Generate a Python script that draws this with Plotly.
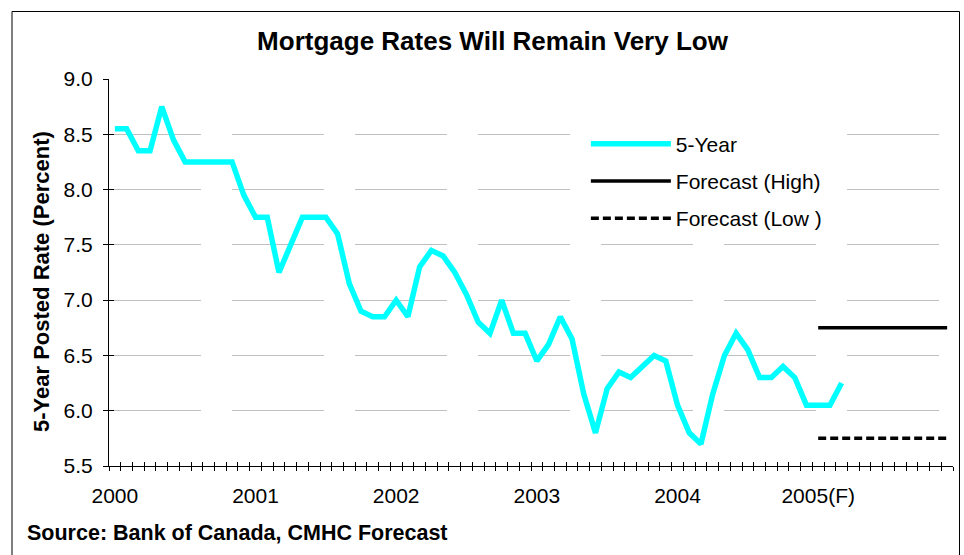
import plotly.graph_objects as go

# Monthly 5-year posted mortgage rate, Jan 2000 - Mar 2005 (percent)
rate_5yr = [
    8.55, 8.55, 8.35, 8.35, 8.75, 8.45, 8.25, 8.25, 8.25, 8.25, 8.25, 7.95,
    7.75, 7.75, 7.25, 7.50, 7.75, 7.75, 7.75, 7.60, 7.15, 6.90, 6.85, 6.85,
    7.00, 6.85, 7.30, 7.45, 7.40, 7.25, 7.05, 6.80, 6.70, 7.00, 6.70, 6.70,
    6.45, 6.60, 6.85, 6.65, 6.15, 5.80, 6.20, 6.35, 6.30, 6.40, 6.50, 6.45,
    6.05, 5.80, 5.70, 6.15, 6.50, 6.70, 6.55, 6.30, 6.30, 6.40, 6.30, 6.05,
    6.05, 6.05, 6.25,
]

# 2005 forecast range, Jan - Dec 2005 (percent)
forecast_high = [6.75, 6.75, 6.75, 6.75, 6.75, 6.75, 6.75, 6.75, 6.75, 6.75, 6.75, 6.75]
forecast_low = [5.75, 5.75, 5.75, 5.75, 5.75, 5.75, 5.75, 5.75, 5.75, 5.75, 5.75, 5.75]

year_labels = ["2000", "2001", "2002", "2003", "2004", "2005(F)"]
year_start_month = [0, 12, 24, 36, 48, 60]
n_months = 72
forecast_start = 60

months_hist = list(range(len(rate_5yr)))
months_fc = [forecast_start + i for i in range(len(forecast_high))]

FONT = "Liberation Sans, Arial, sans-serif"

fig = go.Figure()
fig.add_trace(go.Scatter(
    x=months_hist, y=rate_5yr, mode="lines", name="5-Year",
    line=dict(color="#00FFFF", width=5.5), legendgroup="a",
    xaxis="x", yaxis="y",
))
# forecast traces sit on the overlay axes that carry the crossing tick marks
fig.add_trace(go.Scatter(
    x=months_fc, y=forecast_high, mode="lines", name="Forecast (High)",
    line=dict(color="#000000", width=3.5), legendgroup="b",
    xaxis="x2", yaxis="y",
))
fig.add_trace(go.Scatter(
    x=months_fc, y=forecast_low, mode="lines", name="Forecast (Low )",
    line=dict(color="#000000", width=3.5, dash="8px,4px"), legendgroup="c",
    xaxis="x3", yaxis="y2",
))

xr = [-0.5, n_months - 0.5]
yr = [5.5, 9.0]

fig.update_layout(
    width=964, height=555,
    margin=dict(l=109, r=11, t=79, b=89),
    paper_bgcolor="white", plot_bgcolor="white",
    font=dict(family=FONT, color="black", size=21),
    showlegend=True,
    title=dict(
        text="<b>Mortgage Rates Will Remain Very Low</b>",
        font=dict(family=FONT, size=26, color="black"),
        x=492.5 / 964, xref="container", xanchor="center",
        y=1 - 41 / 555, yref="container", yanchor="middle",
    ),
    legend=dict(
        x=0.565, y=0.885, xanchor="left", yanchor="top",
        bgcolor="white", borderwidth=0,
        font=dict(family=FONT, size=21, color="black"),
        itemwidth=80, traceorder="grouped", tracegroupgap=7,
    ),
    # month index axis carrying the year labels
    xaxis=dict(
        range=xr, showgrid=False, zeroline=False,
        showline=True, linecolor="black", linewidth=1,
        tickmode="array", tickvals=year_start_month, ticktext=year_labels,
        ticks="", ticklabelstandoff=11,
        tickfont=dict(family=FONT, size=21),
    ),
    # month tick marks crossing the axis: outside half
    xaxis2=dict(
        range=xr, overlaying="x", anchor="y", side="bottom",
        showgrid=False, zeroline=False, showline=False,
        tickmode="linear", tick0=-0.5, dtick=1,
        ticks="outside", ticklen=4, tickwidth=1, tickcolor="black",
        showticklabels=False,
    ),
    # month tick marks crossing the axis: inside half
    xaxis3=dict(
        range=xr, overlaying="x", anchor="y2", side="bottom",
        showgrid=False, zeroline=False, showline=False,
        tickmode="linear", tick0=-0.5, dtick=1,
        ticks="inside", ticklen=4, tickwidth=1, tickcolor="black",
        showticklabels=False,
    ),
    yaxis=dict(
        range=yr, tickmode="linear", tick0=5.5, dtick=0.5, tickformat=".1f",
        showgrid=True, gridcolor="#c0c0c0", gridwidth=1, griddash="92px,31px",
        zeroline=False, showline=True, linecolor="black", linewidth=1,
        ticks="outside", ticklen=5, tickwidth=1, tickcolor="black",
        ticklabelstandoff=6,
        tickfont=dict(family=FONT, size=21),
    ),
    yaxis2=dict(
        range=yr, overlaying="y", anchor="x", side="left",
        tickmode="linear", tick0=5.5, dtick=0.5,
        showgrid=False, zeroline=False, showline=False,
        ticks="inside", ticklen=5, tickwidth=1, tickcolor="black",
        showticklabels=False,
    ),
)

# axis title and source note
fig.add_annotation(
    text="<b>5-Year Posted Rate (Percent)</b>", textangle=-90,
    xref="paper", yref="paper", x=(41 - 109) / 844, y=(466 - 282) / 387,
    xanchor="center", yanchor="middle", showarrow=False,
    font=dict(family=FONT, size=22, color="black"),
)
fig.add_annotation(
    text="<b>Source: Bank of Canada, CMHC Forecast</b>",
    xref="paper", yref="paper", x=(25 - 109) / 844, y=(466 - 533) / 387,
    xanchor="left", yanchor="middle", showarrow=False,
    font=dict(family=FONT, size=21.5, color="black"),
)

# chart frame
fig.add_shape(
    type="rect", xref="paper", yref="paper",
    x0=(12 - 109) / 844, x1=(959.5 - 109) / 844,
    y0=(466 - 600) / 387, y1=(466 - 11.5) / 387,
    line=dict(color="black", width=1), fillcolor="rgba(0,0,0,0)", layer="below",
)

fig.write_html("out.html")
